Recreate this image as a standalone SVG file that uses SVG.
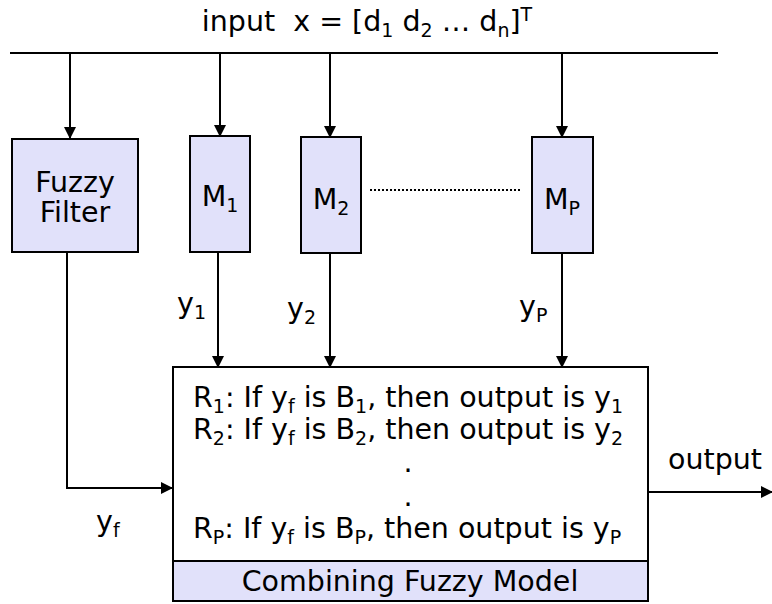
<svg xmlns="http://www.w3.org/2000/svg" width="772" height="604" viewBox="0 0 772 604">
<style>
text{font-family:"DejaVu Sans","Liberation Sans",sans-serif;fill:#000;}
.t{font-size:28.5px;}
.s{font-size:19px;}
.box{fill:#E1E1FA;stroke:#000;stroke-width:2;}
.ln{fill:none;stroke:#000;stroke-width:2;}
</style>
<defs>
<marker id="ah" markerWidth="12" markerHeight="12" refX="11" refY="6" orient="auto" markerUnits="userSpaceOnUse">
<path d="M0,0 L12,6 L0,12 Z" fill="#000"/>
</marker>
</defs>
<text class="t" x="367" y="31" text-anchor="middle">input&#160; x = [d<tspan class="s" dy="6">1</tspan><tspan dy="-6"> d</tspan><tspan class="s" dy="6">2</tspan><tspan dy="-6"> … d</tspan><tspan class="s" dy="6">n</tspan><tspan dy="-6">]</tspan><tspan class="s" dy="-10">T</tspan></text>
<g id="connectors">
<line class="ln" x1="10" y1="53" x2="718" y2="53"/>
<line class="ln" x1="70" y1="53" x2="70" y2="138" marker-end="url(#ah)"/>
<line class="ln" x1="220" y1="53" x2="220" y2="136" marker-end="url(#ah)"/>
<line class="ln" x1="330" y1="52" x2="330" y2="137" marker-end="url(#ah)"/>
<line class="ln" x1="562" y1="53" x2="562" y2="137" marker-end="url(#ah)"/>
<polyline class="ln" points="67,252 67,488 172,488" marker-end="url(#ah)"/>
<line class="ln" x1="218" y1="252" x2="218" y2="367" marker-end="url(#ah)"/>
<line class="ln" x1="330" y1="253" x2="330" y2="367" marker-end="url(#ah)"/>
<line class="ln" x1="562" y1="253" x2="562" y2="367" marker-end="url(#ah)"/>
<line class="ln" x1="648" y1="492" x2="772" y2="492" marker-end="url(#ah)"/>
<line x1="370" y1="190" x2="520" y2="190" stroke="#000" stroke-width="2" stroke-dasharray="2,2"/>
</g>
<g id="fuzzy-filter">
<rect class="box" x="12" y="139" width="126" height="113"/>
<text class="t" x="75" y="192" text-anchor="middle">Fuzzy</text>
<text class="t" x="75" y="222" text-anchor="middle">Filter</text>
</g>
<g id="M1">
<rect class="box" x="190" y="136" width="60" height="116"/>
<text class="t" x="220" y="206" text-anchor="middle">M<tspan class="s" dy="6">1</tspan></text>
</g>
<g id="M2">
<rect class="box" x="301" y="137" width="60" height="116"/>
<text class="t" x="331" y="209" text-anchor="middle">M<tspan class="s" dy="6">2</tspan></text>
</g>
<g id="MP">
<rect class="box" x="532" y="137" width="61" height="116"/>
<text class="t" x="562" y="209" text-anchor="middle">M<tspan class="s" dy="6">P</tspan></text>
</g>
<text class="t" x="177" y="313">y<tspan class="s" dy="6">1</tspan></text>
<text class="t" x="287" y="318">y<tspan class="s" dy="6">2</tspan></text>
<text class="t" x="519" y="316">y<tspan class="s" dy="6">P</tspan></text>
<text class="t" x="96" y="531">y<tspan class="s" dy="6">f</tspan></text>
<text class="t" x="668" y="469">output</text>
<g id="combining-model">
<rect x="173" y="367" width="475" height="194" fill="#fff" stroke="#000" stroke-width="2"/>
<rect class="box" x="173" y="561" width="475" height="40"/>
<text class="t" x="193" y="407">R<tspan class="s" dy="6">1</tspan><tspan dy="-6">: If y</tspan><tspan class="s" dy="6">f</tspan><tspan dy="-6"> is B</tspan><tspan class="s" dy="6">1</tspan><tspan dy="-6">, then output is y</tspan><tspan class="s" dy="6">1</tspan></text>
<text class="t" x="193" y="439">R<tspan class="s" dy="6">2</tspan><tspan dy="-6">: If y</tspan><tspan class="s" dy="6">f</tspan><tspan dy="-6"> is B</tspan><tspan class="s" dy="6">2</tspan><tspan dy="-6">, then output is y</tspan><tspan class="s" dy="6">2</tspan></text>
<text class="t" x="408" y="472" text-anchor="middle">.</text>
<text class="t" x="408" y="506" text-anchor="middle">.</text>
<text class="t" x="193" y="538">R<tspan class="s" dy="6">P</tspan><tspan dy="-6">: If y</tspan><tspan class="s" dy="6">f</tspan><tspan dy="-6"> is B</tspan><tspan class="s" dy="6">P</tspan><tspan dy="-6">, then output is y</tspan><tspan class="s" dy="6">P</tspan></text>
<text class="t" x="410" y="591" text-anchor="middle">Combining Fuzzy Model</text>
</g>
</svg>
